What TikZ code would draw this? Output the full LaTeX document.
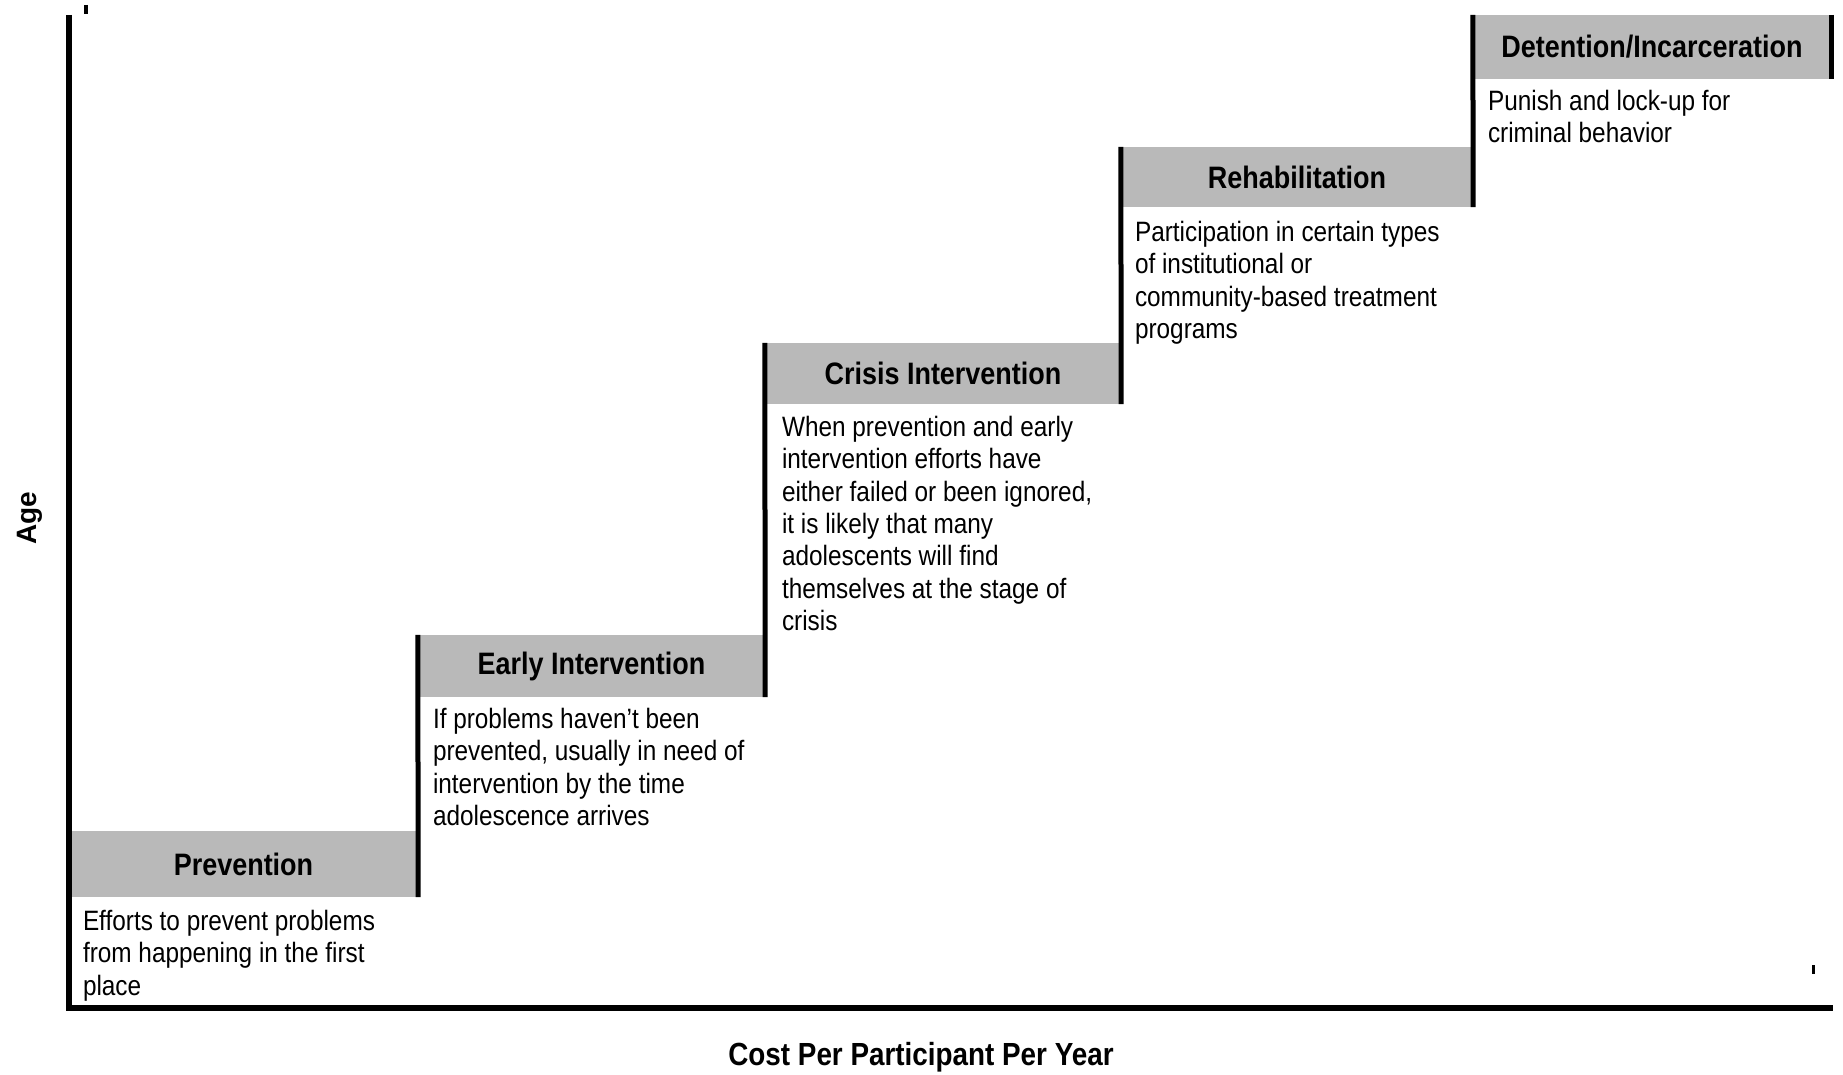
\documentclass[tikz,border=0pt]{standalone}
\usepackage{fontspec}
\setmainfont{Liberation Sans}[FakeStretch=0.87]
\newfontfamily\widefont{Liberation Sans}
\usetikzlibrary{positioning}
\definecolor{stepgray}{RGB}{185,185,185}

\begin{document}
\begin{tikzpicture}[x=1pt, y=-1pt,
  stepbox/.style={fill=stepgray, inner sep=0pt, font=\fontsize{31}{36}\selectfont\bfseries},
  desc/.style={align=left, inner sep=0pt, font=\fontsize{28}{32.3}\selectfont},
  stepbar/.style={line width=5pt},
  axis/.style={line width=6pt}]
\useasboundingbox (0,0) rectangle (1843,1075);

% the five steps
\node[stepbox, minimum width=349pt, minimum height=66pt] (prev) at (243.5,864) {Prevention};
\node[stepbox, minimum width=347pt, minimum height=62pt] (early) at (591.5,666) {Early Intervention};
\node[stepbox, minimum width=356pt, minimum height=61pt] (crisis) at (943,373.5) {Crisis Intervention};
\node[stepbox, minimum width=352pt, minimum height=60pt] (rehab) at (1297,177) {Rehabilitation};
\node[stepbox, minimum width=358pt, minimum height=64pt] (detent) at (1652,47) {Detention/Incarceration};

\node[desc, below right=13pt and 14pt of prev.south west] (prevtxt)
  {Efforts to prevent problems\\from happening in the first\\place};
\node[desc, below right=11pt and 15pt of early.south west] (earlytxt)
  {If problems haven’t been\\prevented, usually in need of\\intervention by the time\\adolescence arrives};
\node[desc, below right=12pt and 17pt of crisis.south west] (crisistxt)
  {When prevention and early\\intervention efforts have\\either failed or been ignored,\\it is likely that many\\adolescents will find\\themselves at the stage of\\crisis};
\node[desc, below right=14pt and 14pt of rehab.south west] (rehabtxt)
  {Participation in certain types\\of institutional or\\community-based treatment\\programs};
\node[desc, below right=11pt and 15pt of detent.south west] (detenttxt)
  {Punish and lock-up for\\criminal behavior};

% risers between the steps
\draw[stepbar] (early.north west) -- (prev.south east);
\draw[stepbar] (crisis.north west) -- (early.south east);
\draw[stepbar] (rehab.north west) -- (crisis.south east);
\draw[stepbar] (detent.north west) -- (rehab.south east);
\draw[stepbar] (detent.north east) -- (detent.south east);

% axes
\coordinate (ytop) at (69,15);
\coordinate (origin) at (69,1008);
\coordinate (xend) at (1833,1008);
\draw[axis] (ytop) -- (origin) -- (xend);
\draw[line width=3.5pt] (86,5) -- (86,14);
\draw[line width=3pt] (1813,965) -- (1813,974);

\node[rotate=90, font=\widefont\fontsize{28}{32}\selectfont\bfseries] (ylabel) at (30,518) {Age};
\node[font=\fontsize{32}{36}\selectfont\bfseries] (xlabel) at (921,1057) {Cost Per Participant Per Year};
\end{tikzpicture}
\end{document}
